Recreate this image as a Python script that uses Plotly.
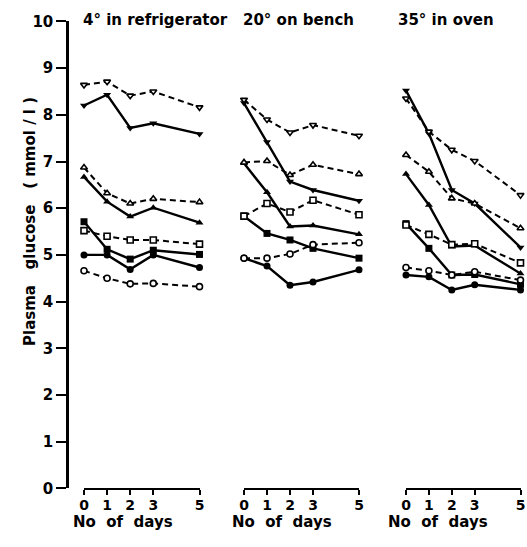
import plotly.graph_objects as go

W, H = 527, 547

days = [0, 1, 2, 3, 5]
panel_titles = ["4° in refrigerator", "20° on bench", "35° in oven"]
y_title = "Plasma   glucose   ( mmol / l )"
x_title = "No  of  days"

# 4 deg, in refrigerator
fridge_dn_filled = [8.20, 8.43, 7.72, 7.82, 7.59]
fridge_dn_open = [8.64, 8.71, 8.41, 8.50, 8.16]
fridge_up_filled = [6.67, 6.14, 5.82, 6.01, 5.69]
fridge_up_open = [6.87, 6.32, 6.10, 6.20, 6.13]
fridge_sq_filled = [5.71, 5.12, 4.91, 5.10, 5.01]
fridge_sq_open = [5.52, 5.40, 5.32, 5.32, 5.23]
fridge_ci_filled = [5.00, 5.00, 4.69, 5.00, 4.73]
fridge_ci_open = [4.66, 4.50, 4.38, 4.39, 4.32]

# 20 deg, on bench
bench_dn_filled = [8.25, 7.42, 6.57, 6.39, 6.16]
bench_dn_open = [8.32, 7.90, 7.62, 7.78, 7.55]
bench_up_filled = [6.96, 6.34, 5.61, 5.63, 5.44]
bench_up_open = [6.98, 7.01, 6.71, 6.93, 6.73]
bench_sq_filled = [5.83, 5.46, 5.32, 5.14, 4.93]
bench_sq_open = [5.83, 6.10, 5.92, 6.17, 5.86]
bench_ci_filled = [4.93, 4.76, 4.35, 4.42, 4.68]
bench_ci_open = [4.93, 4.93, 5.02, 5.22, 5.26]

# 35 deg, in oven
oven_dn_filled = [8.52, 7.60, 6.39, 6.10, 5.16]
oven_dn_open = [8.35, 7.64, 7.25, 7.01, 6.28]
oven_up_filled = [6.73, 6.07, 5.18, 5.20, 4.60]
oven_up_open = [7.14, 6.78, 6.21, 6.10, 5.57]
oven_sq_filled = [5.67, 5.14, 4.57, 4.58, 4.37]
oven_sq_open = [5.64, 5.44, 5.22, 5.24, 4.83]
oven_ci_filled = [4.57, 4.53, 4.25, 4.36, 4.25]
oven_ci_open = [4.73, 4.66, 4.57, 4.64, 4.46]

panels = [
    ("x", [fridge_dn_filled, fridge_dn_open, fridge_up_filled, fridge_up_open,
           fridge_sq_filled, fridge_sq_open, fridge_ci_filled, fridge_ci_open]),
    ("x2", [bench_dn_filled, bench_dn_open, bench_up_filled, bench_up_open,
            bench_sq_filled, bench_sq_open, bench_ci_filled, bench_ci_open]),
    ("x3", [oven_dn_filled, oven_dn_open, oven_up_filled, oven_up_open,
            oven_sq_filled, oven_sq_open, oven_ci_filled, oven_ci_open]),
]
symbols = ["triangle-down", "triangle-down", "triangle-up", "triangle-up",
           "square", "square", "circle", "circle"]
is_open = [False, True, False, True, False, True, False, True]

fig = go.Figure()
for xa, series in panels:
    for vals, sym, op in zip(series, symbols, is_open):
        fig.add_trace(go.Scatter(
            x=days, y=vals, xaxis=xa, yaxis="y", mode="lines+markers",
            cliponaxis=False, showlegend=False,
            line=dict(color="black", width=2.0 if op else 2.4,
                      dash="6px,4px" if op else "solid"),
            marker=dict(symbol=sym, size=6 if op else 7,
                        color="white" if op else "black",
                        line=dict(color="black", width=1.6 if op else 0)),
        ))

def px_x(p):
    return p / W

def px_y(p):
    return (H - p) / H

font_fam = "DejaVu Sans, sans-serif"
ytickfont = dict(family=font_fam, size=15, color="black", weight="bold")
xtickfont = dict(family=font_fam, size=14, color="black", weight="bold")

xaxis_common = dict(range=[0, 5], tickvals=days, ticks="outside", ticklen=5,
                    tickwidth=2, showline=True, linewidth=2, linecolor="black",
                    tickcolor="black", showgrid=False, zeroline=False,
                    anchor="y", tickfont=xtickfont, fixedrange=True,
                    ticklabelstandoff=-2, automargin=False)

fig.update_layout(
    template="none",
    width=W, height=H, margin=dict(l=0, r=0, t=0, b=0, autoexpand=False),
    paper_bgcolor="white", plot_bgcolor="white",
    font=dict(family=font_fam, color="black"),
    xaxis=dict(domain=[px_x(84), px_x(199.5)], **xaxis_common),
    xaxis2=dict(domain=[px_x(244), px_x(359)], **xaxis_common),
    xaxis3=dict(domain=[px_x(406), px_x(520.5)], **xaxis_common),
    yaxis=dict(domain=[px_y(488.4), px_y(21.4)], range=[0, 10], dtick=1,
               anchor="free", position=px_x(67), ticks="outside", ticklen=10,
               tickwidth=2, showline=True, linewidth=2.5, linecolor="black",
               tickcolor="black", showgrid=False, zeroline=False,
               tickfont=ytickfont, fixedrange=True, automargin=False),
)

title_font = dict(family=font_fam, size=15, color="black", weight="bold")
label_font = dict(family=font_fam, size=15, color="black", weight="bold")
for t, xl in zip(panel_titles, [81, 241, 396]):
    fig.add_annotation(text=t, xref="paper", yref="paper", x=px_x(xl), y=px_y(20),
                       xanchor="left", yanchor="middle", showarrow=False,
                       font=title_font)
for xl in [71, 230, 386]:
    fig.add_annotation(text=x_title, xref="paper", yref="paper", x=px_x(xl),
                       y=px_y(522), xanchor="left", yanchor="middle",
                       showarrow=False, font=label_font)
fig.add_annotation(text=y_title, xref="paper", yref="paper", x=px_x(30),
                   y=px_y(222), xanchor="center", yanchor="middle",
                   textangle=-90, showarrow=False, font=label_font)

fig.write_html("out.html")
